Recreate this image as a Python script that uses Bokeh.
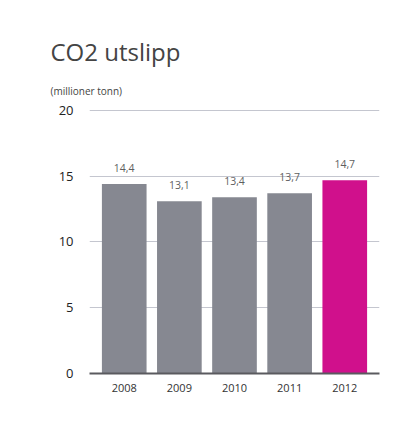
from bokeh.plotting import figure
from bokeh.models import FactorRange, Range1d, ColumnDataSource, Title, SingleIntervalTicker, LabelSet
from bokeh.core.properties import value
from bokeh.embed import file_html
from bokeh.resources import INLINE

years = ["2008", "2009", "2010", "2011", "2012"]
emissions = [14.4, 13.1, 13.4, 13.7, 14.7]
labels = ["14,4", "13,1", "13,4", "13,7", "14,7"]
colors = ["#868891", "#868891", "#868891", "#868891", "#d0108c"]
title_text = "CO2 utslipp"
unit_text = "(millioner tonn)"

src = ColumnDataSource(dict(x=years, y=emissions, lab=labels, c=colors))

FONT = "Open Sans"

p = figure(width=408, height=409, output_backend="svg", toolbar_location=None,
           x_range=FactorRange(*years, range_padding=0.13, range_padding_units="absolute"),
           y_range=Range1d(0, 20.3),
           min_border_left=78, min_border_right=40, min_border_top=94, min_border_bottom=48,
           margin=(12, 0, 0, 11))
p.title.visible = False

p.add_layout(Title(text=unit_text, align="left", offset=-39, text_font=FONT,
                   text_font_size="10px", text_font_style="normal", text_color="#444444",
                   standoff=18), "above")
p.add_layout(Title(text=title_text, align="left", offset=-39, text_font=FONT,
                   text_font_size="24px", text_font_style="normal", text_color="#444444",
                   standoff=10), "above")

p.vbar(x="x", top="y", width=0.81, fill_color="c", line_color=None, source=src)
p.add_layout(LabelSet(x="x", y="y", text="lab", source=src, y_offset=12,
                      text_align="center", text_baseline="bottom",
                      text_font=value(FONT), text_font_size="10.5px", text_color="#5f5f5f"))

p.background_fill_color = "white"
p.border_fill_color = "white"
p.outline_line_color = None

p.xgrid.grid_line_color = None
p.ygrid.grid_line_color = "#c4c6cf"
p.ygrid.grid_line_width = 1
p.yaxis.ticker = SingleIntervalTicker(interval=5)
p.yaxis.axis_line_color = None
p.yaxis.major_tick_line_color = None
p.yaxis.minor_tick_line_color = None
p.yaxis.major_label_text_font = FONT
p.yaxis.major_label_text_font_size = "13px"
p.yaxis.major_label_text_color = "#222222"
p.yaxis.major_label_standoff = 10

p.xaxis.axis_line_color = "#5a5a5f"
p.xaxis.axis_line_width = 2
p.xaxis.major_tick_line_color = None
p.xaxis.minor_tick_line_color = None
p.xaxis.major_label_text_font = FONT
p.xaxis.major_label_text_font_size = "11px"
p.xaxis.major_label_text_color = "#333333"
p.xaxis.major_label_standoff = 4

open("out.html", "w").write(file_html(p, INLINE))
